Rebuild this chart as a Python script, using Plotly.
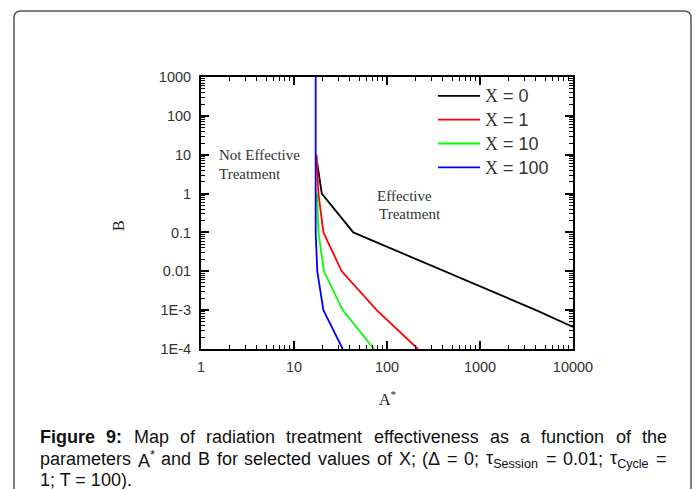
import plotly.graph_objects as go

# ---------------- data ----------------
A_X0 = [17.8, 19.0, 19.9, 43.4, 420, 4000, 10000]
B_X0 = [6, 2, 1, 0.1, 0.01, 0.001, 0.00037]

A_X1 = [17.5, 18.0, 18.3, 20.7, 32.6, 77.5, 215]
B_X1 = [10, 3, 1, 0.1, 0.01, 0.001, 0.0001]

A_X10 = [17.7, 18.3, 21.0, 33.4, 72.5]
B_X10 = [1, 0.1, 0.01, 0.001, 0.0001]

A_X100 = [17.1, 17.1, 17.8, 20.7, 33.4]
B_X100 = [1000, 0.1, 0.01, 0.001, 0.0001]

SERIES_X = ["0", "1", "10", "100"]
SERIES_COLORS = ["#000000", "#ff0000", "#00ff00", "#0000ff"]

X_TICKS = [1, 10, 100, 1000, 10000]
X_TICK_TEXT = ["1", "10", "100", "1000", "10000"]
Y_TICKS = [1000, 100, 10, 1, 0.1, 0.01, 0.001, 0.0001]
Y_TICK_TEXT = ["1000", "100", "10", "1", "0.1", "0.01", "1E-3", "1E-4"]

# ---------------- layout helpers ----------------
W, H = 697, 489
PL, PR, PT, PB = 201, 573, 77, 349   # plot area in pixels
SERIF = "Liberation Serif, Times New Roman, serif"
SANS = "Liberation Sans, Arial, sans-serif"


def px(x):
    return (x - PL) / (PR - PL)


def py(y):
    return (PB - y) / (PB - PT)


fig = go.Figure()
for a, b, name, col in zip([A_X0, A_X1, A_X10, A_X100],
                           [B_X0, B_X1, B_X10, B_X100],
                           SERIES_X, SERIES_COLORS):
    fig.add_trace(go.Scatter(
        x=a, y=b, mode="lines",
        line=dict(color=col, width=1.8),
        name=(f'<span style="font-size:18px"><span style="font-family:Liberation Serif">X</span>'
              f' = {name}</span>'),
    ))

axis_common = dict(
    type="log", showgrid=False, zeroline=False,
    showline=True, linecolor="black", linewidth=2,
    mirror="allticks", ticks="inside", tickcolor="black",
    tickwidth=1.5, ticklen=8,
    tickfont=dict(family=SANS, size=14.5, color="#333333"),
    minor=dict(ticks="inside", ticklen=4, tickcolor="black", tickwidth=1, dtick="D1"),
)

fig.update_xaxes(range=[0, 4], tickvals=X_TICKS, ticktext=X_TICK_TEXT,
                 ticklabelstandoff=4, **axis_common)
fig.update_yaxes(range=[-4, 3], tickvals=Y_TICKS, ticktext=Y_TICK_TEXT,
                 ticklabelstandoff=5, **axis_common)

annotations = []


def add_text(x, y, text, size, family, xanchor="left", color="#333333", textangle=0, yanchor="middle"):
    annotations.append(dict(
        x=px(x), y=py(y), xref="paper", yref="paper", text=text,
        showarrow=False, xanchor=xanchor, yanchor=yanchor, textangle=textangle,
        font=dict(family=family, size=size, color=color),
    ))


# region labels
add_text(217, 155, "Not Effective", 15, SERIF)
add_text(217, 174, "Treatment", 15, SERIF)
add_text(375, 196, "Effective", 15, SERIF)
add_text(377, 214, "Treatment", 15, SERIF)

# axis titles
add_text(388, 398, "A<sup>*</sup>", 16, SERIF, xanchor="center", color="#222222")
add_text(118, 226, "B", 16, SERIF, xanchor="center", color="#222222", textangle=-90)

# caption (justified word by word)
AR = {' ': 278, '(': 333, ')': 333, '*': 389, '.': 278, ':': 278, ';': 278, '=': 584,
      'A': 667, 'B': 667, 'C': 722, 'F': 611, 'M': 833, 'S': 667, 'T': 611, 'X': 667,
      'a': 556, 'c': 500, 'd': 556, 'e': 556, 'f': 278, 'g': 556, 'h': 556, 'i': 222,
      'l': 222, 'm': 833, 'n': 556, 'o': 556, 'p': 556, 'r': 333, 's': 500, 't': 278,
      'u': 556, 'v': 500, 'y': 500, 'Δ': 668, 'τ': 470}
ARB = {'F': 611, 'i': 278, 'g': 611, 'u': 611, 'r': 389, 'e': 556, ':': 333}


def tw(s, bold=False):
    tot = 0
    for ch in s:
        if ch.isdigit():
            tot += 556
        elif bold:
            tot += ARB.get(ch, AR.get(ch, 556))
        else:
            tot += AR.get(ch, 556)
    return tot / 1000.0


CAP = 18
CAP_L, CAP_R = 38, 665

line1 = [("<b>Figure</b>", tw("Figure", True)), ("<b>9:</b>", tw("9:", True))]
for wd in ["Map", "of", "radiation", "treatment", "effectiveness", "as", "a", "function", "of", "the"]:
    line1.append((wd, tw(wd)))

line2 = []
for wd in ["parameters"]:
    line2.append((wd, tw(wd)))
line2.append(("A<sup>*</sup>", tw("A") + 0.7 * tw("*")))
for wd in ["and", "B", "for", "selected", "values", "of", "X;", "(Δ", "=", "0;"]:
    line2.append((wd, tw(wd)))
line2.append(("τ<sub>Session</sub>", tw("τ") + 0.7 * tw("Session")))
line2.append(("=", tw("=")))
line2.append(("0.01;", tw("0.01;")))
line2.append(("τ<sub>Cycle</sub>", tw("τ") + 0.7 * tw("Cycle")))
line2.append(("=", tw("=")))


def justify(words, yc):
    total = sum(w for _, w in words) * CAP
    gap = (CAP_R - CAP_L - total) / (len(words) - 1)
    x = CAP_L
    for txt, w in words:
        add_text(x, yc, txt, CAP, SANS, color="#111111")
        x += w * CAP + gap


justify(line1, 437)
justify(line2, 459)
add_text(CAP_L, 480, "1; T = 100).", CAP, SANS, color="#111111")

# rounded frame around the figure (open at bottom)
fx0, fx1, fy0, fr = 14, 691, 11, 7
frame_path = (f"M {px(fx0)},{py(500)} L {px(fx0)},{py(fy0 + fr)} "
              f"Q {px(fx0)},{py(fy0)} {px(fx0 + fr)},{py(fy0)} "
              f"L {px(fx1 - fr)},{py(fy0)} Q {px(fx1)},{py(fy0)} {px(fx1)},{py(fy0 + fr)} "
              f"L {px(fx1)},{py(500)}")

fig.update_layout(
    width=W, height=H,
    margin=dict(l=PL, r=W - PR, t=PT, b=H - PB),
    paper_bgcolor="white", plot_bgcolor="white",
    showlegend=True,
    legend=dict(
        x=px(433), y=py(79), xanchor="left", yanchor="top",
        bgcolor="rgba(0,0,0,0)", borderwidth=0,
        font=dict(family=SANS, size=16, color="#333333"),
        itemwidth=42,
    ),
    annotations=annotations,
    shapes=[dict(type="path", path=frame_path, xref="paper", yref="paper",
                 line=dict(color="#555555", width=1.5))],
)

fig.write_html("out.html", config={"displayModeBar": False},
               post_script="document.body.style.margin='0';")
